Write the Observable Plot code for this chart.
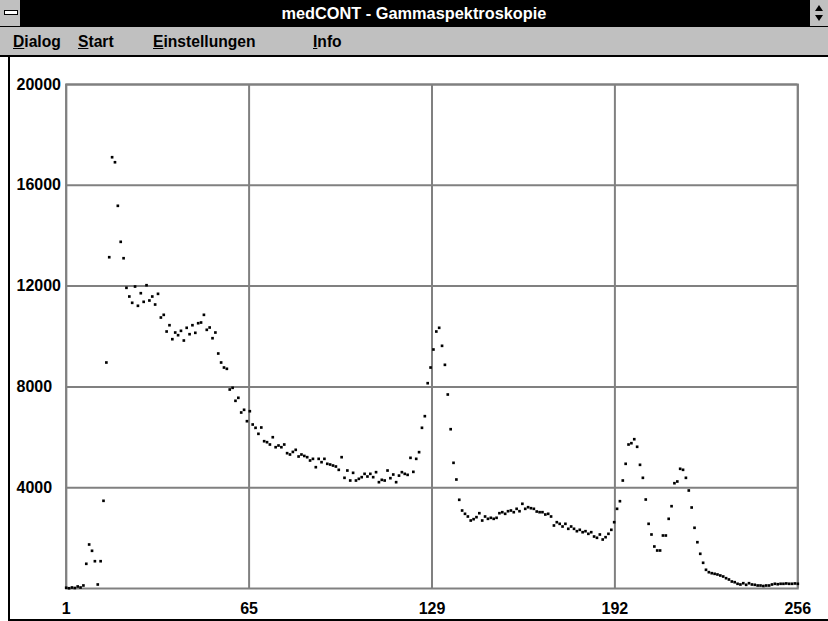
<!DOCTYPE html>
<html>
<head>
<meta charset="utf-8">
<script src="https://cdn.jsdelivr.net/npm/d3@7"></script>
<script src="https://cdn.jsdelivr.net/npm/@observablehq/plot@0.6"></script>
<style>
  html, body { margin: 0; padding: 0; background: #fff; }
  #win { position: relative; width: 828px; height: 621px; overflow: hidden; background: #fff; }
  #titlebar { position: absolute; left: 0; top: 0; width: 828px; height: 27px; background: #000; }
  #ctrl { position: absolute; left: 0; top: 0; width: 20px; height: 26px; background: #c0c0c0; border-right: 1px solid #000; }
  #ctrl div { position: absolute; left: 4px; top: 10px; width: 12px; height: 3px; background: #fff; border: 1px solid #000; }
  #sizer { position: absolute; right: 0; top: 0; width: 18px; height: 26px; background: #c0c0c0; border-left: 1px solid #000; }
  #title { position: absolute; left: 0; top: 0; width: 828px; height: 27px; line-height: 27px; text-align: center; color: #fff;
           font-family: "Liberation Sans", Arial, sans-serif; font-weight: bold; font-size: 17px; }
  #title span { display: inline-block; transform: scaleX(0.96); transform-origin: center; }
  #menubar { position: absolute; left: 0; top: 27px; width: 828px; height: 28px; background: #c0c0c0; border-bottom: 2px solid #000; }
  .mi { position: absolute; top: 5px; font-family: "Liberation Sans", Arial, sans-serif;
        font-weight: bold; font-size: 17px; color: #000; display: inline-block; transform: scaleX(0.92); transform-origin: left center; white-space: nowrap; }
  .mi u { text-decoration: underline; }
  #leftborder { position: absolute; left: 8px; top: 57px; width: 2px; height: 564px; background: #000; z-index: 3; }
  #bottomborder { position: absolute; left: 8px; top: 619px; width: 820px; height: 2px; background: #000; z-index: 3; }
  #chart { position: absolute; left: 0; top: 56px; }
</style>
</head>
<body>
<div id="win">
  <div id="titlebar"></div>
  <div id="title"><span>medCONT - Gammaspektroskopie</span></div>
  <div id="ctrl"><div></div></div>
  <div id="sizer">
    <svg width="18" height="26"><polygon points="5,11 13,11 9,5" fill="#000"/><polygon points="5,15 13,15 9,21" fill="#000"/></svg>
  </div>
  <div id="menubar">
    <span class="mi" style="left:13px"><u>D</u>ialog</span>
    <span class="mi" style="left:78px"><u>S</u>tart</span>
    <span class="mi" style="left:153px"><u>E</u>instellungen</span>
    <span class="mi" style="left:313px"><u>I</u>nfo</span>
  </div>
  <div id="chart"></div>
  <div id="leftborder"></div>
  <div id="bottomborder"></div>
</div>
<script>
// Channel numbers (1..256) and counts
const channels = d3.range(1, 257);
const counts = [
  30, 10, 40, 20, 80, 40, 120, 980, 1746, 1496,
  1083, 159, 1083, 3480, 8968, 13146, 17114, 16915, 15186, 13757,
  13106, 11932, 11587, 11337, 11983, 11218, 11718, 11376, 12035, 11428,
  11587, 11269, 11693, 10753, 10860, 10198, 10448, 9893, 10158, 10052,
  10225, 9841, 10345, 10091, 10448, 10146, 10527, 10555, 10860, 10265,
  10357, 9932, 10158, 9325, 8968, 8769, 8718, 7896, 7964, 7448,
  7567, 6984, 7091, 6639, 7035, 6508, 6377, 6138, 6389, 5845,
  5806, 5714, 6003, 5607, 5674, 5607, 5714, 5370, 5317, 5420,
  5503, 5238, 5317, 5260, 5211, 5079, 5145, 4814, 5145, 5013,
  5145, 4948, 4920, 4880, 4841, 4709, 5211, 4392, 4682, 4285,
  4590, 4285, 4352, 4418, 4550, 4444, 4550, 4418, 4616, 4219,
  4312, 4285, 4682, 4378, 4523, 4219, 4480, 4616, 4550, 4510,
  5185, 4629, 5145, 5410, 6377, 6838, 8147, 8769, 9484, 10198,
  10345, 9630, 8876, 7698, 6321, 4987, 4325, 3520, 3095, 2964,
  2857, 2698, 2751, 2831, 2988, 2698, 2857, 2765, 2805, 2765,
  2805, 2988, 3028, 2964, 3067, 3095, 3028, 3162, 3067, 3361,
  3162, 3226, 3186, 3162, 3055, 3028, 3028, 2936, 2964, 2857,
  2500, 2631, 2567, 2460, 2567, 2369, 2460, 2369, 2274, 2329,
  2234, 2274, 2170, 2234, 2063, 2012, 2143, 1944, 2036, 2170,
  2329, 2631, 3162, 3464, 4285, 4948, 5714, 5766, 5924, 5623,
  4908, 4392, 3531, 2567, 2143, 1667, 1508, 1508, 2103, 2103,
  2765, 3266, 4178, 4246, 4750, 4710, 4392, 3889, 3214, 2409,
  1837, 1377, 1020, 742, 647, 607, 583, 556, 516, 476,
  409, 357, 278, 250, 187, 159, 210, 147, 210, 159,
  147, 119, 119, 100, 119, 119, 159, 187, 170, 187,
  187, 200, 187, 187, 200, 187
];
const yTicks = [4000, 8000, 12000, 16000, 20000];
const xTicks = [1, 64.75, 128.5, 192.25, 256];
const xTickLabels = ["1", "65", "129", "192", "256"];

const data = channels.map((c, i) => ({channel: c, count: counts[i]}));

const chart = Plot.plot({
  width: 828,
  height: 565,
  marginLeft: 65.7,
  marginRight: 30.7,
  marginTop: 28,
  marginBottom: 33,
  style: {background: "transparent", fontFamily: "Arial, 'Liberation Sans', sans-serif", fontSize: "16px", fontWeight: "bold", color: "#000"},
  x: {domain: [1, 256], label: null},
  y: {domain: [0, 20000], label: null},
  marks: [
    Plot.gridX(xTicks, {stroke: "#808080", strokeOpacity: 1, strokeWidth: 2}),
    Plot.gridY(yTicks, {stroke: "#808080", strokeOpacity: 1, strokeWidth: 2}),
    Plot.frame({stroke: "#808080", strokeWidth: 2}),
    Plot.dot(data, {x: "channel", y: "count", symbol: "square", r: 1.5, fill: "#000", stroke: "none"}),
    Plot.axisY(yTicks, {label: null, tickSize: 0, tickPadding: 0, textAnchor: "start", dx: -49.7, tickFormat: d => String(d), fill: "#000"}),
    Plot.axisX(xTicks, {label: null, tickSize: 0, tickPadding: 14, tickFormat: d => xTickLabels[xTicks.indexOf(d)], fill: "#000"})
  ]
});
document.getElementById("chart").appendChild(chart);
</script>
</body>
</html>
